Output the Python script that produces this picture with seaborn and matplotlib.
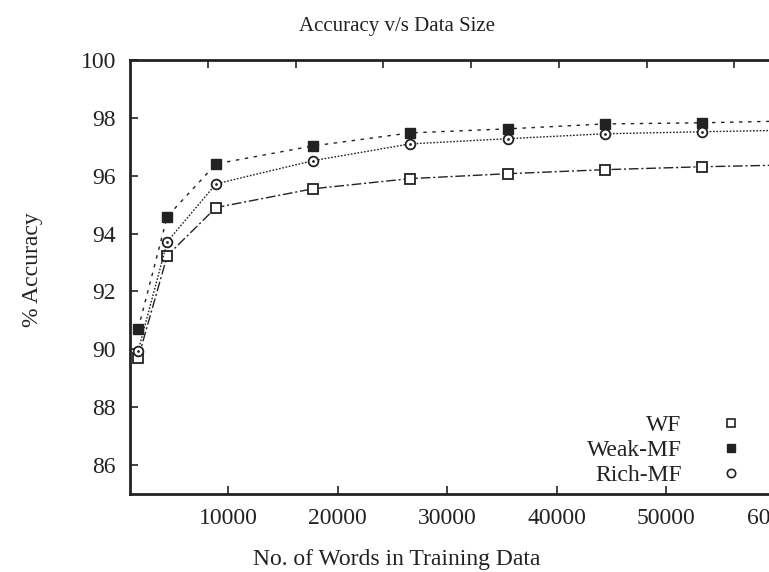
import matplotlib
matplotlib.use("Agg")
import matplotlib.pyplot as plt
import seaborn as sns
import pandas as pd
from matplotlib.lines import Line2D

# ---- data ----
words = [1800, 4450, 8900, 17750, 26600, 35500, 44400, 53250, 62100]
wf = [89.70, 93.24, 94.90, 95.55, 95.90, 96.07, 96.21, 96.31, 96.38]
weak_mf = [90.72, 94.59, 96.41, 97.03, 97.48, 97.62, 97.79, 97.83, 97.90]
rich_mf = [89.95, 93.72, 95.72, 96.52, 97.10, 97.28, 97.45, 97.52, 97.58]
series_names = ["WF", "Weak-MF", "Rich-MF"]
y_ticks = [86, 88, 90, 92, 94, 96, 98, 100]
x_ticks = [10000, 20000, 30000, 40000, 50000, 60000]

sns.set_theme(style="ticks")
plt.rcParams["font.family"] = ["Liberation Serif", "DejaVu Serif"]

W, H = 769, 572
fig = plt.figure(figsize=(W / 100, H / 100), dpi=100)
ax_l, ax_r, ax_t, ax_b = 130, 776, 60, 494
ax = fig.add_axes([ax_l / W, 1 - ax_b / H, (ax_r - ax_l) / W, (ax_b - ax_t) / H])

df = pd.DataFrame({"words": words, "WF": wf, "Weak-MF": weak_mf, "Rich-MF": rich_mf})
col = "#222222"
styles = {
    "WF": dict(ls=(0, (7, 2, 1.5, 2)), marker="s", mfc="white", mec=col, ms=6.5, mew=1.3),
    "Weak-MF": dict(ls=(0, (2.5, 4)), marker="s", mfc=col, mec=col, ms=6.5, mew=1.0),
    "Rich-MF": dict(ls=(0, (1.2, 1.2)), marker="o", mfc="white", mec=col, ms=7, mew=1.3),
}
for name in series_names:
    st = styles[name]
    sns.lineplot(data=df, x="words", y=name, ax=ax, color=col, lw=1.0,
                 linestyle=st["ls"], marker=st["marker"], markerfacecolor=st["mfc"],
                 markeredgecolor=st["mec"], markersize=st["ms"], markeredgewidth=st["mew"],
                 clip_on=True)
# inner dot for Rich-MF circles
sns.scatterplot(data=df, x="words", y="Rich-MF", ax=ax, color=col, s=4, linewidth=0, zorder=5)

ax.set_xlim(1050, 60000)
ax.set_ylim(85, 100)
ax.set_xticks(x_ticks)
ax.set_yticks(y_ticks)
ax.tick_params(direction="in", length=6, width=1.2, labelsize=17, pad=10, colors="#222222")
for s in ax.spines.values():
    s.set_linewidth(2.0)
    s.set_color("#222222")

# top ticks (mirror axis with its own spacing)
ax2 = ax.twiny()
ax2.set_xlim(1106, 74766)
ax2.set_xticks([10000, 20000, 30000, 40000, 50000, 60000, 70000])
ax2.tick_params(direction="in", length=6, width=1.2, labeltop=False)
for s in ax2.spines.values():
    s.set_visible(False)

ax.set_xlabel("No. of Words in Training Data", fontsize=17, color="#222222")
ax.xaxis.set_label_coords((397 - ax_l) / (ax_r - ax_l), -0.127)
ax.set_ylabel("% Accuracy", fontsize=17, color="#222222")
ax.yaxis.set_label_coords(-0.134, 0.516)
fig.text(397 / W, 1 - 27 / H, "Accuracy v/s Data Size", ha="center", va="center",
         fontsize=15, color="#222222")

handles = [
    Line2D([], [], ls="none", marker="s", mfc="white", mec=col, ms=5.5, mew=1.2),
    Line2D([], [], ls="none", marker="s", mfc=col, mec=col, ms=5.5),
    Line2D([], [], ls="none", marker="o", mfc="white", mec=col, ms=6, mew=1.2),
]
ax.legend(handles, series_names, loc="upper right",
          bbox_to_anchor=((755 - ax_l) / (ax_r - ax_l), (ax_b - 403) / (ax_b - ax_t)),
          frameon=False, markerfirst=False, fontsize=17, handlelength=1.0,
          handletextpad=1.6, labelspacing=0.14, borderpad=0, labelcolor="#222222")

fig.savefig("out.png", dpi=100)
